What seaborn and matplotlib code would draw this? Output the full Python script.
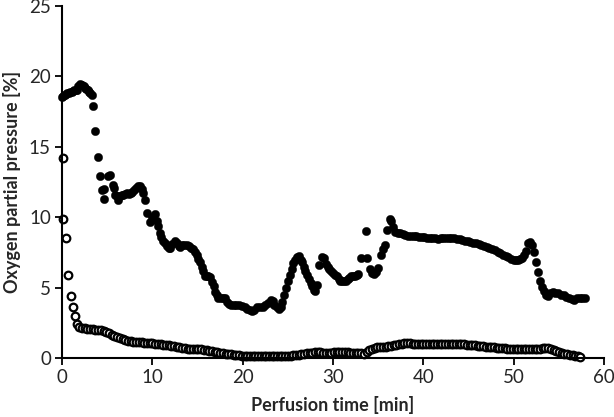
import matplotlib
matplotlib.use("Agg")
import matplotlib.pyplot as plt
import seaborn as sns
import pandas as pd

# ---- filled series (x in min, y in %) ----
filled_x = [0.0, 0.15, 0.3, 0.45, 0.6, 0.75, 0.9, 1.05, 1.2, 1.35, 1.5, 1.65, 1.8, 1.95, 2.1, 2.25, 2.4, 2.55, 2.7, 2.85, 3.0, 3.15, 3.3,
            3.45, 3.65, 3.95, 4.15, 4.45, 4.6, 4.7, 5.05, 5.35, 5.6, 5.75, 5.9, 6.1, 6.25, 6.45, 6.6, 6.8, 7.0, 7.2, 7.4, 7.6, 7.8,
            8.0, 8.2, 8.4, 8.6, 8.8, 8.95, 9.2, 9.45, 9.7, 10.0, 10.3, 10.5, 10.65, 10.85, 11.0, 11.2, 11.4, 11.6, 11.8, 12.0,
            12.2, 12.45, 12.7, 12.9, 13.1, 13.3, 13.55, 13.8, 14.0, 14.3, 14.55, 14.75, 14.95, 15.1, 15.3, 15.45, 15.6, 15.8,
            16.0, 16.2, 16.4, 16.6, 16.8, 16.95, 17.1, 17.3, 17.55, 17.8, 18.05, 18.3, 18.5, 18.75, 19.0, 19.3, 19.6, 19.9,
            20.2, 20.5, 20.8, 21.0, 21.3, 21.6, 21.9, 22.2, 22.5, 22.8, 23.1, 23.3, 23.5, 23.75, 24.0, 24.2, 24.4, 24.6, 24.8,
            25.0, 25.2, 25.4, 25.6, 25.8, 26.0, 26.2, 26.4, 26.6, 26.75, 26.9, 27.1, 27.3, 27.5, 27.7, 27.9, 28.05, 28.2, 28.45,
            28.75, 29.0, 29.2, 29.4, 29.6, 29.8, 30.0, 30.2, 30.4, 30.6, 30.8, 31.0, 31.2, 31.4, 31.6, 31.8, 32.0, 32.2, 32.4,
            32.6, 32.8, 33.1, 33.6, 33.8, 34.05, 34.3, 34.55, 34.8, 35.0, 35.25, 35.5, 35.7, 36.0, 36.25, 36.45, 36.65, 36.9,
            37.15, 37.4, 37.7, 38.0, 38.3, 38.6, 38.9, 39.2, 39.5, 39.8, 40.1, 40.4, 40.7, 41.0, 41.3, 41.6, 41.9, 42.2, 42.5,
            42.8, 43.1, 43.4, 43.7, 44.0, 44.3, 44.6, 44.9, 45.2, 45.5, 45.8, 46.1, 46.4, 46.7, 47.0, 47.3, 47.6, 47.9, 48.2,
            48.5, 48.8, 49.1, 49.4, 49.7, 50.0, 50.2, 50.45, 50.7, 50.9, 51.1, 51.3, 51.55, 51.8, 52.0, 52.2, 52.45, 52.7,
            52.95, 53.15, 53.35, 53.55, 53.8, 54.0, 54.3, 54.6, 54.9, 55.2, 55.5, 55.8, 56.1, 56.4, 56.7, 57.0, 57.3, 57.6, 57.9]
filled_y = [18.5, 18.6, 18.7, 18.75, 18.8, 18.85, 18.9, 18.9, 18.95, 19.0, 19.0, 19.05, 19.3, 19.45, 19.4, 19.35, 19.3, 19.2, 19.1, 19.0, 18.9, 18.8, 18.65,
            17.9, 16.1, 14.3, 12.9, 11.95, 12.0, 11.3, 12.9, 13.0, 12.3, 12.1, 11.6, 11.5, 11.2, 11.5, 11.6, 11.6, 11.65, 11.7, 11.65, 11.7, 11.8,
            11.95, 12.1, 12.2, 12.2, 12.0, 11.75, 11.25, 10.3, 9.65, 10.05, 10.25, 9.7, 9.4, 8.9, 8.6, 8.35, 8.15, 7.95, 7.8, 7.85,
            8.1, 8.3, 8.15, 7.95, 7.9, 8.0, 8.05, 8.05, 7.95, 7.85, 7.75, 7.5, 7.3, 7.05, 6.85, 6.5, 6.2, 5.85,
            5.8, 5.85, 5.75, 5.4, 5.1, 4.7, 4.45, 4.3, 4.25, 4.3, 4.25, 4.0, 3.85, 3.8, 3.8, 3.8, 3.75, 3.7,
            3.65, 3.5, 3.45, 3.35, 3.45, 3.6, 3.65, 3.65, 3.75, 3.9, 4.1, 4.05, 3.8, 3.65, 3.5, 3.6, 4.0, 4.5, 5.0,
            5.45, 5.9, 6.35, 6.75, 7.0, 7.2, 7.25, 7.0, 6.8, 6.5, 6.2, 5.9, 5.65, 5.35, 5.1, 4.85, 4.75, 5.2, 6.6,
            7.2, 7.1, 6.7, 6.45, 6.3, 6.2, 6.05, 5.9, 5.8, 5.65, 5.5, 5.45, 5.45, 5.5, 5.6, 5.7, 5.8, 5.85, 5.85,
            5.9, 5.95, 7.1, 9.05, 7.1, 6.35, 6.05, 5.95, 6.15, 6.4, 7.3, 7.75, 8.0, 9.1, 9.85, 9.7, 9.3, 8.95,
            8.9, 8.85, 8.8, 8.75, 8.7, 8.7, 8.65, 8.65, 8.6, 8.6, 8.6, 8.55, 8.55, 8.5, 8.5, 8.45, 8.5, 8.55, 8.5,
            8.5, 8.5, 8.5, 8.45, 8.45, 8.4, 8.35, 8.3, 8.25, 8.2, 8.15, 8.1, 8.0, 7.95, 7.9, 7.85, 7.75, 7.65, 7.55,
            7.45, 7.35, 7.25, 7.15, 7.05, 7.0, 6.95, 7.0, 7.05, 7.1, 7.3, 7.6, 8.2, 8.25, 8.05, 7.55, 6.8, 6.1,
            5.5, 5.05, 4.75, 4.5, 4.4, 4.6, 4.7, 4.65, 4.6, 4.5, 4.45, 4.35, 4.25, 4.2, 4.15, 4.3, 4.3, 4.3, 4.25]

# ---- open series ----
open_x = [0.1, 0.1, 0.45, 0.7, 0.95, 1.2, 1.45, 1.7,
          1.9, 2.2, 2.5, 2.8, 3.1, 3.4, 3.7, 4.0, 4.3, 4.6, 4.9, 5.2, 5.5, 5.8, 6.1, 6.4, 6.7, 7.0, 7.3, 7.6, 7.9,
          8.2, 8.5, 8.8, 9.1, 9.4, 9.7, 10.0, 10.3, 10.6, 10.9, 11.2, 11.5, 11.8, 12.1, 12.4, 12.7, 13.0, 13.3, 13.6,
          13.9, 14.2, 14.5, 14.8, 15.1, 15.4, 15.7, 16.0, 16.3, 16.6, 16.9, 17.2, 17.5, 17.8, 18.1, 18.4, 18.7, 19.0,
          19.3, 19.6, 19.9, 20.2, 20.5, 20.8, 21.1, 21.4, 21.7, 22.0, 22.3, 22.6, 22.9, 23.2, 23.5, 23.8, 24.1, 24.4,
          24.7, 25.0, 25.3, 25.6, 25.9, 26.2, 26.5, 26.8, 27.1, 27.4, 27.7, 28.0, 28.3, 28.6, 28.9, 29.2, 29.5, 29.8,
          30.1, 30.4, 30.7, 31.0, 31.3, 31.6, 31.9, 32.2, 32.5, 32.8, 33.1, 33.4, 33.7, 34.0, 34.3, 34.6, 34.9, 35.2,
          35.5, 35.8, 36.1, 36.4, 36.7, 37.0, 37.3, 37.6, 37.9, 38.2, 38.5, 38.8, 39.1, 39.4, 39.7, 40.0, 40.3, 40.6,
          40.9, 41.2, 41.5, 41.8, 42.1, 42.4, 42.7, 43.0, 43.3, 43.6, 43.9, 44.2, 44.5, 44.8, 45.1, 45.4, 45.7, 46.0,
          46.3, 46.6, 46.9, 47.2, 47.5, 47.8, 48.1, 48.4, 48.7, 49.0, 49.3, 49.6, 49.9, 50.2, 50.5, 50.8, 51.1, 51.4,
          51.7, 52.0, 52.3, 52.6, 52.9, 53.2, 53.5, 53.8, 54.1, 54.4, 54.7, 55.0, 55.3, 55.6, 55.9, 56.2, 56.5, 56.8,
          57.1, 57.3]
open_y = [14.2, 9.9, 8.5, 5.9, 4.4, 3.65, 3.0, 2.4,
          2.2, 2.15, 2.12, 2.1, 2.08, 2.05, 2.03, 2.0, 1.97, 1.9, 1.85, 1.78, 1.65, 1.55, 1.48, 1.42, 1.35, 1.3, 1.25, 1.2, 1.18,
          1.16, 1.14, 1.12, 1.1, 1.08, 1.06, 1.05, 1.03, 1.0, 0.98, 0.96, 0.94, 0.92, 0.88, 0.84, 0.8, 0.76, 0.72, 0.7,
          0.68, 0.67, 0.66, 0.65, 0.64, 0.63, 0.6, 0.57, 0.54, 0.5, 0.47, 0.44, 0.4, 0.36, 0.33, 0.3, 0.27, 0.24,
          0.22, 0.2, 0.18, 0.17, 0.16, 0.15, 0.15, 0.15, 0.16, 0.17, 0.18, 0.18, 0.18, 0.18, 0.18, 0.18, 0.18, 0.18,
          0.18, 0.18, 0.19, 0.2, 0.22, 0.26, 0.3, 0.33, 0.36, 0.38, 0.4, 0.42, 0.42, 0.41, 0.4, 0.4, 0.4, 0.4,
          0.41, 0.42, 0.42, 0.42, 0.42, 0.41, 0.4, 0.38, 0.37, 0.36, 0.34, 0.32, 0.42, 0.55, 0.68, 0.72, 0.76, 0.78,
          0.8, 0.82, 0.85, 0.88, 0.92, 0.96, 1.0, 1.03, 1.05, 1.06, 1.05, 1.04, 1.03, 1.02, 1.02, 1.01, 1.0, 1.0,
          1.0, 1.0, 0.99, 0.99, 0.99, 0.99, 0.99, 0.99, 0.99, 0.99, 0.99, 0.99, 0.98, 0.97, 0.95, 0.93, 0.91, 0.89,
          0.87, 0.85, 0.83, 0.81, 0.79, 0.77, 0.75, 0.73, 0.71, 0.69, 0.67, 0.66, 0.65, 0.64, 0.63, 0.63, 0.63, 0.63,
          0.63, 0.64, 0.65, 0.66, 0.68, 0.7, 0.71, 0.7, 0.64, 0.56, 0.48, 0.42, 0.37, 0.33, 0.29, 0.25, 0.22, 0.19,
          0.17, 0.12]

x_ticks = [0, 10, 20, 30, 40, 50, 60]
y_ticks = [0, 5, 10, 15, 20, 25]
x_label = "Perfusion time [min]"
y_label = "Oxygen partial pressure [%]"

sns.set_theme(style="ticks")
plt.rcParams['font.family'] = ['Lato', 'DejaVu Sans']

fig = plt.figure(figsize=(6.14, 4.17), dpi=100)
ax = fig.add_axes([0.101, 0.141, 0.883, 0.845])

df_open = pd.DataFrame({"t": open_x, "p": open_y})
df_filled = pd.DataFrame({"t": filled_x, "p": filled_y})

sns.scatterplot(data=df_open, x="t", y="p", ax=ax, s=30, facecolor="white",
                edgecolor="black", linewidth=1.6, zorder=2)
sns.scatterplot(data=df_filled, x="t", y="p", ax=ax, s=36, color="black",
                edgecolor="black", linewidth=0.3, zorder=3)

ax.set_xlim(0, 60)
ax.set_ylim(0, 25)
ax.set_xticks(x_ticks)
ax.set_yticks(y_ticks)
ax.set_xlabel(x_label, fontsize=13, fontweight="bold", labelpad=7)
ax.set_ylabel(y_label, fontsize=13, fontweight="bold", labelpad=6)
ax.tick_params(axis="both", labelsize=13.5, length=5, width=1.3, color="black", direction="out", pad=3)
for side in ["top", "right"]:
    ax.spines[side].set_visible(False)
for side in ["left", "bottom"]:
    ax.spines[side].set_color("black")
    ax.spines[side].set_linewidth(1.5)
ax.grid(False)
for c in ax.collections:
    c.set_clip_on(False)

fig.savefig("out.png", dpi=100)
